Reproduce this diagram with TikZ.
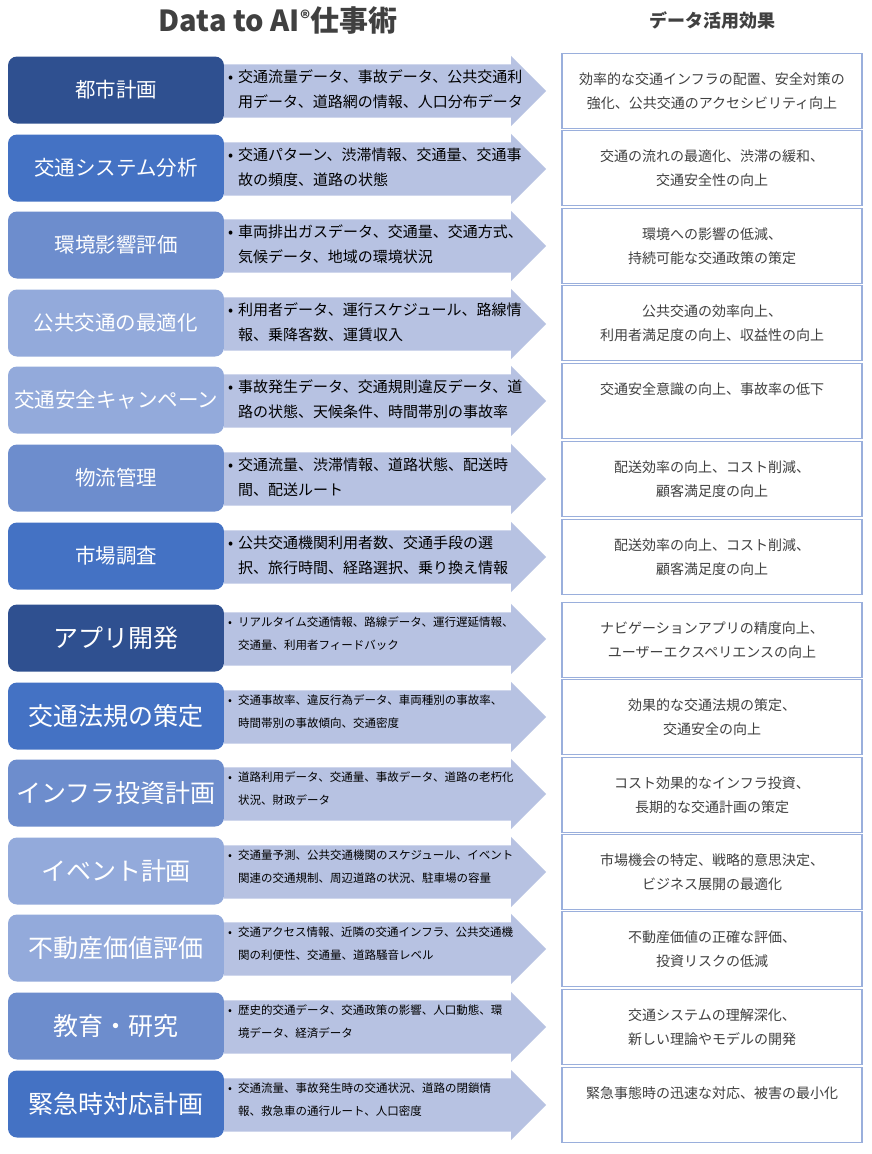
\documentclass[tikz,border=0pt]{standalone}
\usepackage{fontspec}
\setmainfont{Noto Sans CJK JP}
\usepackage{tikz}
\usetikzlibrary{shapes.arrows,positioning}

\definecolor{navy}{HTML}{2F5090}
\definecolor{midblue}{HTML}{4472C4}
\definecolor{softblue}{HTML}{6D8DCD}
\definecolor{paleblue}{HTML}{93AADB}
\definecolor{arrowfill}{HTML}{B7C2E2}
\definecolor{framecol}{HTML}{9AAFDC}
\definecolor{inkgrey}{HTML}{404040}

\newcommand{\datapoint}[2]{\begin{tabular}{@{}l@{}l@{}}\makebox[10pt][l]{•}&#1\\&#2\end{tabular}}

\tikzset{
	usecase/.style={rounded corners=9pt, minimum width=216pt, minimum height=67pt, inner sep=0pt, text=white},
	bigcase/.style={usecase, font=\fontsize{25}{30}\selectfont},
	smallcase/.style={usecase, font=\fontsize{20.5}{24}\selectfont},
	flow/.style={shape=single arrow, fill=arrowfill, draw=none, inner sep=0pt, text height=26.5pt, text depth=26.5pt, minimum height=322pt, minimum width=70pt, single arrow head extend=8.5pt, anchor=tail},
	datatext/.style={anchor=west, inner sep=0pt, font=\fontsize{15}{25}\selectfont},
	smalldata/.style={anchor=west, inner sep=0pt, font=\fontsize{11.5}{23}\selectfont},
	effect/.style={draw=framecol, line width=1.5pt, fill=white, minimum width=300pt, minimum height=75pt, inner sep=0pt, align=center, text=inkgrey, font=\fontsize{14}{24}\selectfont}
}

\begin{document}
\begin{tikzpicture}[x=1pt, y=-1pt]
			\useasboundingbox[fill=white] (0,0) rectangle (871,1154);
			\node[text=inkgrey, font=\fontsize{29}{32}\selectfont\bfseries] (title) at (278,21) {Data to AI\raisebox{6pt}{\fontsize{19}{19}\selectfont ®}仕事術};
			\node[text=inkgrey, font=\fontsize{18}{20}\selectfont\bfseries] (effhead) at (712,21) {データ活用効果};

			\node[smallcase, fill=navy] (u1) at (116,90) {都市計画};
			\node[flow] (a1) at (224,91) {};
			\node[datatext] (d1) at (228,90) {\datapoint{交通流量データ、事故データ、公共交通利}{用データ、道路網の情報、人口分布データ}};
			\node[effect] (e1) at (712,91) {効率的な交通インフラの配置、安全対策の\\強化、公共交通のアクセシビリティ向上};

			\node[smallcase, fill=midblue] (u2) at (116,168) {交通システム分析};
			\node[flow] (a2) at (224,169) {};
			\node[datatext] (d2) at (228,168) {\datapoint{交通パターン、渋滞情報、交通量、交通事}{故の頻度、道路の状態}};
			\node[effect] (e2) at (712,168) {交通の流れの最適化、渋滞の緩和、\\交通安全性の向上};

			\node[smallcase, fill=softblue] (u3) at (116,245) {環境影響評価};
			\node[flow] (a3) at (224,246) {};
			\node[datatext] (d3) at (228,245) {\datapoint{車両排出ガスデータ、交通量、交通方式、}{気候データ、地域の環境状況}};
			\node[effect] (e3) at (712,246) {環境への影響の低減、\\持続可能な交通政策の策定};

			\node[smallcase, fill=paleblue] (u4) at (116,323) {公共交通の最適化};
			\node[flow] (a4) at (224,324) {};
			\node[datatext] (d4) at (228,323) {\datapoint{利用者データ、運行スケジュール、路線情}{報、乗降客数、運賃収入}};
			\node[effect] (e4) at (712,323) {公共交通の効率向上、\\利用者満足度の向上、収益性の向上};

			\node[smallcase, fill=paleblue] (u5) at (116,400) {交通安全キャンペーン};
			\node[flow] (a5) at (224,401) {};
			\node[datatext] (d5) at (228,400) {\datapoint{事故発生データ、交通規則違反データ、道}{路の状態、天候条件、時間帯別の事故率}};
			\node[effect] (e5) at (712,401) {交通安全意識の向上、事故率の低下\\\phantom{あ}};

			\node[smallcase, fill=softblue] (u6) at (116,478) {物流管理};
			\node[flow] (a6) at (224,479) {};
			\node[datatext] (d6) at (228,478) {\datapoint{交通流量、渋滞情報、道路状態、配送時}{間、配送ルート}};
			\node[effect] (e6) at (712,479) {配送効率の向上、コスト削減、\\顧客満足度の向上};

			\node[smallcase, fill=midblue] (u7) at (116,556) {市場調査};
			\node[flow] (a7) at (224,557) {};
			\node[datatext] (d7) at (228,556) {\datapoint{公共交通機関利用者数、交通手段の選}{択、旅行時間、経路選択、乗り換え情報}};
			\node[effect] (e7) at (712,557) {配送効率の向上、コスト削減、\\顧客満足度の向上};

			\node[bigcase, fill=navy] (u8) at (116,638) {アプリ開発};
			\node[flow] (a8) at (224,639) {};
			\node[smalldata] (d8) at (228,633) {\datapoint{リアルタイム交通情報、路線データ、運行遅延情報、}{交通量、利用者フィードバック}};
			\node[effect] (e8) at (712,640) {ナビゲーションアプリの精度向上、\\ユーザーエクスペリエンスの向上};

			\node[bigcase, fill=midblue] (u9) at (116,716) {交通法規の策定};
			\node[flow] (a9) at (224,717) {};
			\node[smalldata] (d9) at (228,711) {\datapoint{交通事故率、違反行為データ、車両種別の事故率、}{時間帯別の事故傾向、交通密度}};
			\node[effect] (e9) at (712,717) {効果的な交通法規の策定、\\交通安全の向上};

			\node[bigcase, fill=softblue] (u10) at (116,793) {インフラ投資計画};
			\node[flow] (a10) at (224,794) {};
			\node[smalldata] (d10) at (228,788) {\datapoint{道路利用データ、交通量、事故データ、道路の老朽化}{状況、財政データ}};
			\node[effect] (e10) at (712,795) {コスト効果的なインフラ投資、\\長期的な交通計画の策定};

			\node[bigcase, fill=paleblue] (u11) at (116,871) {イベント計画};
			\node[flow] (a11) at (224,872) {};
			\node[smalldata] (d11) at (228,866) {\datapoint{交通量予測、公共交通機関のスケジュール、イベント}{関連の交通規制、周辺道路の状況、駐車場の容量}};
			\node[effect] (e11) at (712,872) {市場機会の特定、戦略的意思決定、\\ビジネス展開の最適化};

			\node[bigcase, fill=paleblue] (u12) at (116,948) {不動産価値評価};
			\node[flow] (a12) at (224,949) {};
			\node[smalldata] (d12) at (228,943) {\datapoint{交通アクセス情報、近隣の交通インフラ、公共交通機}{関の利便性、交通量、道路騒音レベル}};
			\node[effect] (e12) at (712,949) {不動産価値の正確な評価、\\投資リスクの低減};

			\node[bigcase, fill=softblue] (u13) at (116,1026) {教育・研究};
			\node[flow] (a13) at (224,1027) {};
			\node[smalldata] (d13) at (228,1021) {\datapoint{歴史的交通データ、交通政策の影響、人口動態、環}{境データ、経済データ}};
			\node[effect] (e13) at (712,1027) {交通システムの理解深化、\\新しい理論やモデルの開発};

			\node[bigcase, fill=midblue] (u14) at (116,1104) {緊急時対応計画};
			\node[flow] (a14) at (224,1105) {};
			\node[smalldata] (d14) at (228,1099) {\datapoint{交通流量、事故発生時の交通状況、道路の閉鎖情}{報、救急車の通行ルート、人口密度}};
			\node[effect] (e14) at (712,1105) {緊急事態時の迅速な対応、被害の最小化\\\phantom{あ}};
			\end{tikzpicture}
\end{document}
